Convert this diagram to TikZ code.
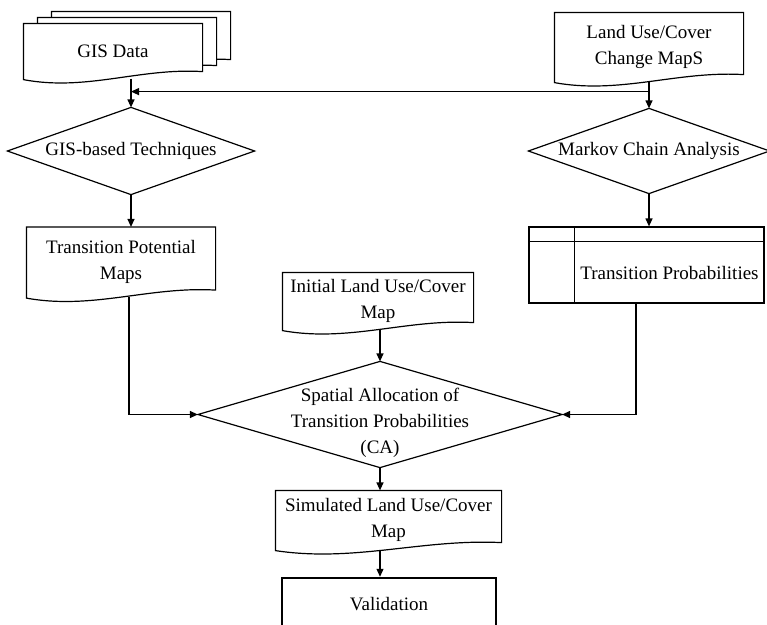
\documentclass[tikz,border=0pt]{standalone}
\usepackage{fontspec}
\setmainfont{Liberation Serif}
\usetikzlibrary{arrows.meta,calc,backgrounds}

% outline of a document symbol round a node, shifted by (#2,#3)
\newcommand{\docpath}[3]{($(#1.north west)+(#2,#3)$) -- ($(#1.north east)+(#2,#3)$) -- ($(#1.south east)+(#2,#3-7)$) .. controls ($(#1.south west)!0.65!(#1.south east)+(#2,#3-11)$) and ($(#1.south west)!0.35!(#1.south east)+(#2,#3+13)$) .. ($(#1.south west)+(#2,#3+1)$) -- cycle}

\begin{document}
\begin{tikzpicture}[
  x=1pt, y=-1pt,
  font=\fontsize{19}{26}\selectfont,
  line width=1.2pt,
  doc/.style={inner sep=0pt, align=center},
  docline/.style={draw, fill=white, line width=1.2pt},
  dia/.style={inner sep=0pt, align=center},
  box/.style={draw, inner sep=0pt, align=center},
  >={Triangle[length=8pt,width=7pt]},
]
\useasboundingbox (0,0) rectangle (767,624);

\node[doc, minimum width=178pt, minimum height=54pt] (gis) at (113,51) {GIS Data};
\node[doc, minimum width=188pt, minimum height=68pt] (lucc) at (649,47) {Land Use/Cover\\Change MapS};
\node[dia, minimum width=246pt, minimum height=86pt] (gt) at (131,151) {GIS-based Techniques};
\node[dia, minimum width=240pt, minimum height=84pt] (mk) at (649,151) {Markov Chain Analysis};
\node[doc, minimum width=188pt, minimum height=69pt] (tpm) at (121,262) {Transition Potential\\Maps};
\node[box, minimum width=235pt, minimum height=76pt] (tp) at (646.5,265) {};
\node (tptext) at ($(tp.center)+(23,7.5)$) {Transition Probabilities};
\node[doc, minimum width=190pt, minimum height=56pt] (init) at (378,301) {Initial Land Use/Cover\\Map};
\node[dia, minimum width=363pt, minimum height=105pt,
  label={[name=satext, align=center, yshift=-8pt]center:Spatial Allocation of\\Transition Probabilities\\(CA)}] (sa) at (380,414.5) {};
\node[doc, minimum width=225pt, minimum height=58pt] (sim) at (388.5,520) {Simulated Land Use/Cover\\Map};
\node[box, line width=2.5pt, minimum width=214pt, minimum height=52pt] (val) at (389,604) {Validation};

\begin{scope}[on background layer]
  \foreach \o in {2,1,0} { \path[docline] \docpath{gis}{14*\o}{-6*\o}; }
  \foreach \n in {lucc,tpm,init,sim} { \path[docline] \docpath{\n}{0}{0}; }
\end{scope}
\foreach \n in {gt,mk,sa} { \draw (\n.north) -- (\n.east) -- (\n.south) -- (\n.west) -- cycle; }
\draw ($(tp.north west)+(0,15)$) -- ($(tp.north east)+(0,15)$);
\draw ($(tp.north west)+(46,0)$) -- ($(tp.south west)+(46,0)$);

\coordinate (split) at ($(lucc.south)+(0,10)$);
\draw[->] (gis.south -| gt.north) -- (gt.north);
\draw[->] (lucc.south) -- (mk.north);
\draw[->] (split) -- (split -| gt.north);
\draw[->] (gt.south) -- (gt.south |- tpm.north);
\draw[->] (mk.south) -- (mk.south |- tp.north);
\draw[->] ([xshift=8pt]tpm.south) |- (sa.west);
\draw[->] ([xshift=-10.5pt]tp.south) |- (sa.east);
\draw[->] (init.south -| sa.north) -- (sa.north);
\draw[->] (sa.south) -- (sa.south |- sim.north);
\draw[->] (sa.south |- sim.south) -- (sa.south |- val.north);
\end{tikzpicture}
\end{document}
